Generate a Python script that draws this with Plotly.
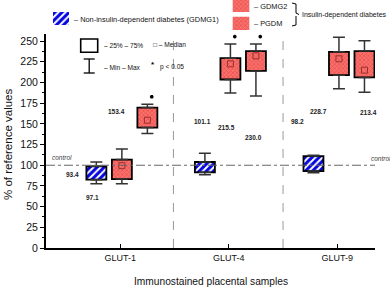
import plotly.graph_objects as go

# ---------------- data ----------------
categories = ["GLUT-1", "GLUT-4", "GLUT-9"]
series_names = ["GDMG1", "GDMG2", "PGDM"]

gdmg1_min = [77.7, 88.6, 91.0]
gdmg1_q1 = [82.6, 91.4, 93.0]
gdmg1_med = [91.0, 97.0, 101.0]
gdmg1_q3 = [98.7, 103.9, 111.1]
gdmg1_max = [103.9, 114.4, 112.0]

gdmg2_min = [77.7, 187.4, 192.3]
gdmg2_q1 = [83.3, 203.6, 208.8]
gdmg2_med = [99.5, 222.5, 228.6]
gdmg2_q3 = [106.8, 229.4, 237.0]
gdmg2_max = [119.6, 246.4, 254.5]

pgdm_min = [138.3, 183.8, 188.3]
pgdm_q1 = [145.5, 214.0, 206.1]
pgdm_med = [154.4, 232.2, 214.9]
pgdm_q3 = [169.7, 237.9, 237.9]
pgdm_max = [173.7, 246.4, 250.4]

significant_gdmg1 = [False, False, False]
significant_gdmg2 = [False, True, True]
significant_pgdm = [True, True, True]

mean_labels = ["93.4", "97.1", "153.4", "101.1", "215.5", "230.0", "98.2", "228.7", "213.4"]
control_value = 100
y_ticks = [0, 25, 50, 75, 100, 125, 150, 175, 200, 225, 250]

# ---------------- layout constants ----------------
W, H = 390, 289
ML, MR, MB = 46, 15, 41
PW = W - ML - MR
PH = H - MB
Y_RANGE = [0, 258]
Y_DOM_TOP = 0.861
X_RANGE = [-0.684, 2.347]
OFFSETS = [-0.22, 0.015, 0.25]
BOX_W = 0.184

FONT = "Liberation Sans, Arial, sans-serif"


def xp(px):
    return (px - ML) / PW


def yp(py):
    return (PH - py) / PH


BLUE_PAT = dict(shape="/", bgcolor="white", fgcolor="#0505e0", size=5, solidity=0.6, fgopacity=1)
RED_PAT = dict(shape="x", bgcolor="#f7726d", fgcolor="#e52e2e", size=3, solidity=0.45)

series = [
    dict(name="GDMG1", mn=gdmg1_min, q1=gdmg1_q1, med=gdmg1_med, q3=gdmg1_q3, mx=gdmg1_max,
         sig=significant_gdmg1, pattern=BLUE_PAT, show_median=False),
    dict(name="GDMG2", mn=gdmg2_min, q1=gdmg2_q1, med=gdmg2_med, q3=gdmg2_q3, mx=gdmg2_max,
         sig=significant_gdmg2, pattern=RED_PAT, show_median=True),
    dict(name="PGDM", mn=pgdm_min, q1=pgdm_q1, med=pgdm_med, q3=pgdm_q3, mx=pgdm_max,
         sig=significant_pgdm, pattern=RED_PAT, show_median=True),
]

fig = go.Figure()

# box bodies (patterned bars)
for s, off in zip(series, OFFSETS):
    xs = [i + off for i in range(len(categories))]
    fig.add_trace(go.Bar(
        x=xs, y=[b - a for a, b in zip(s["q1"], s["q3"])], base=s["q1"], width=BOX_W,
        marker=dict(color=s["pattern"]["bgcolor"], pattern=s["pattern"],
                    line=dict(color="black", width=1.8)),
        showlegend=False, hoverinfo="skip"))

# whiskers
for s, off in zip(series, OFFSETS):
    xs = [i + off for i in range(len(categories))]
    fig.add_trace(go.Scatter(
        x=xs, y=s["q3"], mode="markers",
        marker=dict(size=1, color="rgba(0,0,0,0)"),
        error_y=dict(type="data", symmetric=False,
                     array=[b - a for a, b in zip(s["q3"], s["mx"])],
                     arrayminus=[0] * len(xs), color="#333333", thickness=1.5, width=6),
        showlegend=False, hoverinfo="skip"))
    fig.add_trace(go.Scatter(
        x=xs, y=s["q1"], mode="markers",
        marker=dict(size=1, color="rgba(0,0,0,0)"),
        error_y=dict(type="data", symmetric=False,
                     array=[0] * len(xs),
                     arrayminus=[a - b for a, b in zip(s["q1"], s["mn"])],
                     color="#333333", thickness=1.5, width=6),
        showlegend=False, hoverinfo="skip"))

# medians
for s, off in zip(series, OFFSETS):
    if not s["show_median"]:
        continue
    xs = [i + off for i in range(len(categories))]
    fig.add_trace(go.Scatter(
        x=xs, y=s["med"], mode="markers",
        marker=dict(symbol="square-open", size=6, color="#9a3030", line=dict(width=1)),
        showlegend=False, hoverinfo="skip"))

# significance stars
for s, off in zip(series, OFFSETS):
    xs = [i + off + 0.04 for i, f in enumerate(s["sig"]) if f]
    ys = [m + 9 for m, f in zip(s["mx"], s["sig"]) if f]
    if xs:
        fig.add_trace(go.Scatter(
            x=xs, y=ys, mode="markers",
            marker=dict(symbol="asterisk-open", size=3, color="black",
                        line=dict(width=1.2, color="black")),
            showlegend=False, hoverinfo="skip", cliponaxis=False))

# legend swatches on a helper axis (pixel units)
fig.add_trace(go.Bar(
    x=[61], y=[13], base=[12], width=[16], xaxis="x2", yaxis="y2",
    marker=dict(color="white", pattern=BLUE_PAT, line=dict(width=0)),
    showlegend=False, hoverinfo="skip"))
fig.add_trace(go.Bar(
    x=[241, 241], y=[12, 13.3], base=[0, 16.7], width=[16.6, 16.6], xaxis="x2", yaxis="y2",
    marker=dict(color=RED_PAT["bgcolor"], pattern=RED_PAT, line=dict(width=0)),
    showlegend=False, hoverinfo="skip"))

shapes = []
# control line
shapes.append(dict(type="line", xref="paper", yref="y", x0=0, x1=1, y0=control_value, y1=control_value,
                   line=dict(color="#666666", width=1, dash="dashdot")))
# group separators
for xsep in [0.49, 1.5]:
    shapes.append(dict(type="line", xref="x", yref="paper", x0=xsep, x1=xsep, y0=0, y1=yp(33),
                       line=dict(color="#999999", width=1, dash="dash")))
# inner legend: box symbol
shapes.append(dict(type="rect", xref="paper", yref="paper", x0=xp(80.7), x1=xp(97.7), y0=yp(52.3), y1=yp(39),
                   line=dict(color="black", width=1.6), fillcolor="white"))
# whisker symbol
shapes.append(dict(type="line", xref="paper", yref="paper", x0=xp(89.2), x1=xp(89.2), y0=yp(59), y1=yp(73),
                   line=dict(color="black", width=1.3)))
for yy in (59, 73):
    shapes.append(dict(type="line", xref="paper", yref="paper", x0=xp(83.7), x1=xp(94.7), y0=yp(yy), y1=yp(yy),
                       line=dict(color="black", width=1.3)))
# bracket for insulin-dependent
bx0, bx1, bx2 = xp(292), xp(296), xp(299)
shapes.append(dict(type="path", xref="paper", yref="paper",
                   path=f"M {bx0},{yp(3)} L {bx1},{yp(4)} L {bx1},{yp(13)} L {bx2},{yp(14.5)} "
                        f"M {bx1},{yp(16)} L {bx1},{yp(25)} L {bx0},{yp(26)}",
                   line=dict(color="black", width=1)))

annotations = []
label_pos = [(72.7, 175), (92.7, 197.7), (116.7, 111), (202.7, 121.7), (226, 127.3), (253.3, 137.3),
             (297.7, 121), (318, 111), (368.3, 112.3)]
for txt, (px, py) in zip(mean_labels, label_pos):
    annotations.append(dict(x=xp(px), y=yp(py), xref="paper", yref="paper", text=f"<b>{txt}</b>",
                            showarrow=False, font=dict(family=FONT, size=6.5, color="#222222"),
                            xanchor="center", yanchor="middle"))
for px, py in [(61.5, 157.5), (381, 158)]:
    annotations.append(dict(x=xp(px), y=yp(py), xref="paper", yref="paper", text="<i>control</i>",
                            showarrow=False, xanchor="center", yanchor="middle",
                            font=dict(family=FONT, size=6.5, color="#444444")))

legend_texts = [
    ("– Non-insulin-dependent diabetes (GDMG1)", 72, 19, 7.4),
    ("– GDMG2", 252, 7, 7.4),
    ("– PGDM", 252, 23, 7.4),
    ("Insulin-dependent diabetes", 300, 15, 7.0),
    ("– 25% – 75%", 102, 45.5, 6.6),
    ("– Min – Max", 102, 67, 6.6),
    ("□ – Median", 151, 44.5, 6.6),
    ("p < 0.05", 157.5, 67, 6.6),
]
for txt, px, py, sz in legend_texts:
    annotations.append(dict(x=xp(px), y=yp(py), xref="paper", yref="paper", text=txt, showarrow=False,
                            xanchor="left", yanchor="middle", font=dict(family=FONT, size=sz, color="#111111")))
annotations.append(dict(x=xp(153), y=yp(64.5), xref="paper", yref="paper", text="<b>*</b>", showarrow=False,
                        xanchor="center", yanchor="middle", font=dict(family=FONT, size=8, color="black")))
# axis titles
annotations.append(dict(x=xp(8), y=yp(145), xref="paper", yref="paper", text="% of reference values",
                        showarrow=False, textangle=-90, xanchor="center", yanchor="middle",
                        font=dict(family=FONT, size=11.5, color="#111111")))
annotations.append(dict(x=xp(211), y=yp(281.5), xref="paper", yref="paper", text="Immunostained placental samples",
                        showarrow=False, xanchor="center", yanchor="middle",
                        font=dict(family=FONT, size=10.2, color="#111111")))

fig.update_layout(
    width=W, height=H,
    margin=dict(l=ML, r=MR, t=0, b=MB, pad=0),
    paper_bgcolor="white", plot_bgcolor="white",
    barmode="overlay",
    showlegend=False,
    hovermode=False,
    font=dict(family=FONT, color="#111111"),
    xaxis=dict(range=X_RANGE, domain=[0, 1], tickvals=list(range(len(categories))), ticktext=categories,
               showline=True, linecolor="black", linewidth=2, showgrid=False, zeroline=False,
               ticks="inside", ticklen=4, tickcolor="black", tickwidth=1,
               tickfont=dict(family=FONT, size=9, color="#111111"), anchor="y"),
    yaxis=dict(range=Y_RANGE, domain=[0, Y_DOM_TOP], tickvals=y_ticks, showline=True, linecolor="black",
               linewidth=2, showgrid=False, zeroline=False, ticks="outside", ticklen=4, tickcolor="black",
               minor=dict(dtick=12.5, tick0=0, ticks="outside", ticklen=2, tickcolor="black"),
               tickfont=dict(family=FONT, size=10.5, color="#111111"), anchor="x"),
    xaxis2=dict(range=[ML, W - MR], domain=[0, 1], visible=False, anchor="y2", fixedrange=True),
    yaxis2=dict(range=[PH * (1 - 0.87), 0], domain=[0.87, 1], visible=False, anchor="x2", fixedrange=True),
    shapes=shapes,
    annotations=annotations,
)

fig.write_html("out.html", config={"displayModeBar": False, "staticPlot": True},
               post_script="document.body.style.margin='0';document.body.style.padding='0';")
